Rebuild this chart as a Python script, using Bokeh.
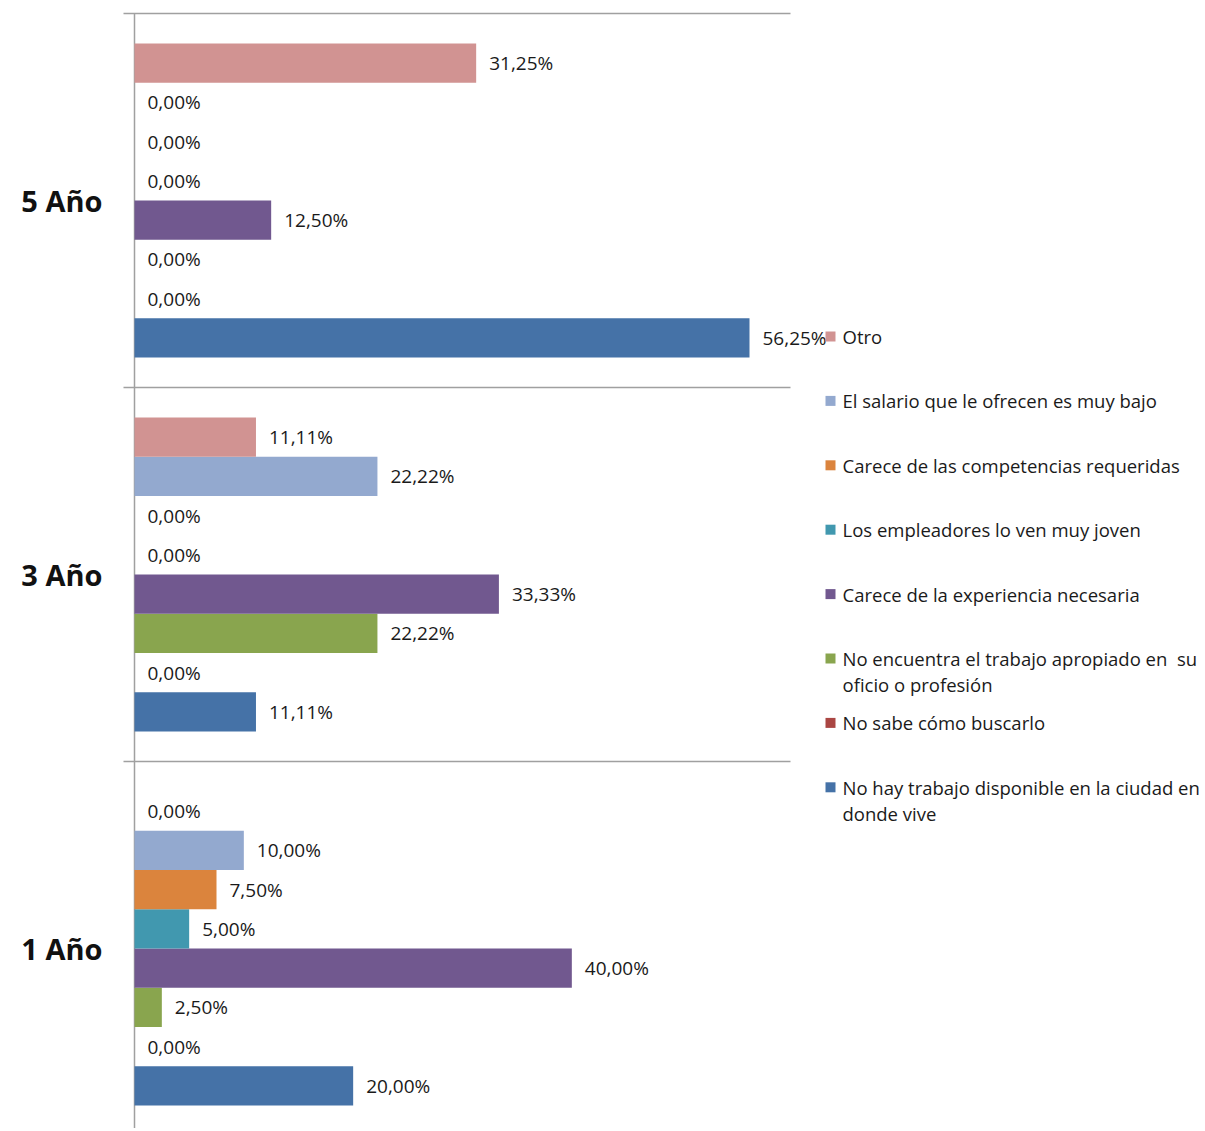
from bokeh.plotting import figure
from bokeh.models import Range1d, ColumnDataSource
from bokeh.core.properties import value
from bokeh.embed import file_html
from bokeh.resources import INLINE

# ---------------- data ----------------
categories = ["1 Año", "3 Año", "5 Año"]

# series in drawing order within each group (bottom -> top)
series_names = [
    "No hay trabajo disponible en la ciudad en donde vive",
    "No sabe cómo buscarlo",
    "No encuentra el trabajo apropiado en  su oficio o profesión",
    "Carece de la experiencia necesaria",
    "Los empleadores lo ven muy joven",
    "Carece de las competencias requeridas",
    "El salario que le ofrecen es muy bajo",
    "Otro",
]
legend_lines = [
    ["No hay trabajo disponible en la ciudad en", "donde vive"],
    ["No sabe cómo buscarlo"],
    ["No encuentra el trabajo apropiado en\u00a0 su", "oficio o profesión"],
    ["Carece de la experiencia necesaria"],
    ["Los empleadores lo ven muy joven"],
    ["Carece de las competencias requeridas"],
    ["El salario que le ofrecen es muy bajo"],
    ["Otro"],
]
series_colors = ["#4572A7", "#AA4643", "#89A54E", "#71588F",
                 "#4198AF", "#DB843D", "#93A9CF", "#D19392"]

# values per category (%), order matches series_names
values_1 = [20.00, 0.00, 2.50, 40.00, 5.00, 7.50, 10.00, 0.00]
values_3 = [11.11, 0.00, 22.22, 33.33, 0.00, 0.00, 22.22, 11.11]
values_5 = [56.25, 0.00, 0.00, 12.50, 0.00, 0.00, 0.00, 31.25]
values_by_cat = [values_1, values_3, values_5]

x_max = 60

# ---------------- layout helpers ----------------
W, H = 1200, 1128
OFF = 0
AX_X = 134          # image x of value 0
RIGHT_X = 790       # image x of value x_max
TOP_Y = 13          # image y of top of plot area
CAT_PX = 374        # pixels per category
PX_PCT = (RIGHT_X - AX_X) / x_max


def dx(ix):
    return (ix - AX_X) / PX_PCT


def dy(iy):
    return len(categories) - (iy - TOP_Y) / CAT_PX


gap = 30 / CAT_PX
n_ser = len(series_names)
bar_h = (1 - 2 * gap) / n_ser

p = figure(width=W, height=H, output_backend="svg", toolbar_location=None,
           x_range=Range1d(dx(OFF), dx(OFF + W)),
           y_range=Range1d(dy(OFF + H), dy(OFF)),
           x_axis_location=None, y_axis_location=None, min_border=0)
p.grid.visible = False
p.outline_line_color = None
p.background_fill_color = "white"

# separators and axis line
sep_y = list(range(len(categories) + 1))
p.segment(x0=[dx(123)] * len(sep_y), x1=[x_max] * len(sep_y), y0=sep_y, y1=sep_y,
          line_color="#a0a0a0", line_width=1.5)
p.segment(x0=[0], x1=[0], y0=[dy(OFF + H + 5)], y1=[len(categories)],
          line_color="#a0a0a0", line_width=1.5)

# bars
ys, vals, cols, labels = [], [], [], []
for k, vlist in enumerate(values_by_cat):
    for i, v in enumerate(vlist):
        ys.append(k + gap + bar_h * (i + 0.5))
        vals.append(v)
        cols.append(series_colors[i])
        labels.append(("%.2f%%" % v).replace(".", ","))

src = ColumnDataSource(dict(y=ys, v=vals, c=cols, lab=labels))
p.hbar(y="y", left=0, right="v", height=bar_h, fill_color="c", line_color=None, source=src)
p.text(x="v", y="y", text="lab", x_offset=13, text_baseline="middle", text_align="left",
       text_font=value("Open Sans"), text_font_size="19px", text_color="#1a1a1a", source=src)

# category labels
p.text(x=[0] * len(categories), y=[k + 0.5 for k in range(len(categories))], text=categories,
       x_offset=-32, text_align="right", text_baseline="middle",
       text_font=value("Open Sans"), text_font_style="bold", text_font_size="29px",
       text_color="#111111")

# legend (top to bottom: reversed series order)
leg_top = 336
leg_step = 64.4
line_step = 26
sq_x, sq_y, sq_c = [], [], []
tx, ty, tt = [], [], []
for j, i in enumerate(reversed(range(n_ser))):
    iy = leg_top + leg_step * j
    sq_x.append(dx(830))
    sq_y.append(dy(iy))
    sq_c.append(series_colors[i])
    for l, line in enumerate(legend_lines[i]):
        tx.append(dx(842))
        ty.append(dy(iy + line_step * l))
        tt.append(line)

p.scatter(x=sq_x, y=sq_y, marker="square", size=10, fill_color=sq_c, line_color=None)
p.text(x=tx, y=ty, text=tt, text_baseline="middle", text_align="left",
       text_font=value("Open Sans"), text_font_size="18.5px", text_color="#1a1a1a")

open("out.html", "w").write(file_html(p, INLINE))
